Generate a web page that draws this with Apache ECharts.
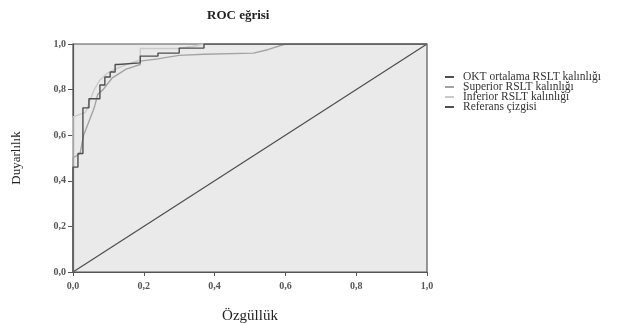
<!DOCTYPE html>
<html>
<head>
<meta charset="utf-8">
<script src="https://cdn.jsdelivr.net/npm/echarts@6/dist/echarts.min.js"></script>
<style>html,body{margin:0;padding:0;background:#fff}#c{width:622px;height:325px}</style>
</head>
<body>
<div id="c"></div>
<script>
// Data (x = 1 - özgüllük, y = duyarlılık)
const seriesNames = ['OKT ortalama RSLT kalınlığı', 'Superior RSLT kalınlığı', 'İnferior RSLT kalınlığı', 'Referans çizgisi'];
const tickValues = [0, 0.2, 0.4, 0.6, 0.8, 1.0];
const oktCurve = [[0,0],[0,0.46],[0.014,0.46],[0.014,0.52],[0.028,0.52],[0.028,0.72],[0.045,0.72],[0.045,0.76],[0.076,0.76],[0.076,0.82],[0.09,0.82],[0.09,0.855],[0.105,0.855],[0.105,0.877],[0.119,0.877],[0.119,0.91],[0.127,0.91],[0.127,0.917],[0.19,0.917],[0.19,0.947],[0.24,0.947],[0.24,0.96],[0.30,0.96],[0.30,0.982],[0.37,0.982],[0.37,1.0],[1,1]];
const superiorCurve = [[0,0],[0,0.5],[0.02,0.52],[0.03,0.6],[0.045,0.66],[0.06,0.72],[0.07,0.78],[0.085,0.8],[0.095,0.82],[0.11,0.85],[0.13,0.87],[0.15,0.89],[0.19,0.91],[0.19,0.925],[0.24,0.935],[0.26,0.94],[0.30,0.95],[0.37,0.955],[0.37,0.96],[0.51,0.96],[0.55,0.975],[0.60,1.0],[1,1]];
const inferiorCurve = [[0,0],[0,0.68],[0.035,0.70],[0.05,0.76],[0.06,0.8],[0.075,0.84],[0.095,0.87],[0.12,0.89],[0.15,0.91],[0.19,0.93],[0.19,0.98],[0.3,0.98],[0.34,0.99],[0.37,1.0],[1,1]];
const referenceLine = [[0,0],[1,1]];

const curves = [oktCurve, superiorCurve, inferiorCurve, referenceLine];
const colors = ['#4d4d4d', '#a3a3a3', '#cacaca', '#4d4d4d'];
const fmt = v => v.toFixed(1).replace('.', ',');
const serif = '"Liberation Serif", "DejaVu Serif", serif';

const chart = echarts.init(document.getElementById('c'), null, {renderer: 'canvas'});
chart.setOption({
  animation: false,
  backgroundColor: '#ffffff',
  title: {
    text: 'ROC eğrisi', left: 202, top: 4,
    textStyle: {fontFamily: serif, fontSize: 13, fontWeight: 'bold', color: '#222'}
  },
  legend: {
    orient: 'vertical', left: 440, top: 66, itemGap: -2,
    itemWidth: 9, itemHeight: 2, icon: 'rect',
    data: seriesNames,
    textStyle: {fontFamily: serif, fontSize: 11.5, color: '#333', padding: [0,0,0,4]}
  },
  grid: {
    left: 73, right: 195, top: 44, bottom: 53,
    containLabel: false, outerBoundsMode: 'none',
    show: true, backgroundColor: '#eaeaea', borderColor: '#555', borderWidth: 1.2
  },
  xAxis: {
    type: 'value', min: 0, max: 1, interval: 0.2,
    name: 'Özgüllük', nameLocation: 'middle', nameGap: 37,
    nameTextStyle: {fontFamily: serif, fontSize: 15, color: '#222'},
    axisLine: {show: true, lineStyle: {color: '#555', width: 1.2}},
    axisTick: {show: true, length: 4, lineStyle: {color: '#555'}},
    axisLabel: {formatter: fmt, fontFamily: serif, fontSize: 10, fontWeight: 'bold', color: '#555', margin: 9},
    splitLine: {show: false}
  },
  yAxis: {
    type: 'value', min: 0, max: 1, interval: 0.2,
    name: 'Duyarlılık', nameLocation: 'middle', nameGap: 50, nameRotate: 90,
    nameTextStyle: {fontFamily: serif, fontSize: 13, color: '#222'},
    axisLine: {show: true, lineStyle: {color: '#555', width: 1.2}},
    axisTick: {show: true, length: 5, lineStyle: {color: '#555'}},
    axisLabel: {formatter: fmt, fontFamily: serif, fontSize: 10, fontWeight: 'bold', color: '#555', margin: 7},
    splitLine: {show: false}
  },
  series: seriesNames.map((n, i) => ({
    name: n, type: 'line', data: curves[i], showSymbol: false, symbol: 'none',
    z: 10 - i,
    lineStyle: {color: colors[i], width: i === 3 ? 1.2 : 1.4},
    itemStyle: {color: colors[i]}
  }))
});
</script>
</body>
</html>
